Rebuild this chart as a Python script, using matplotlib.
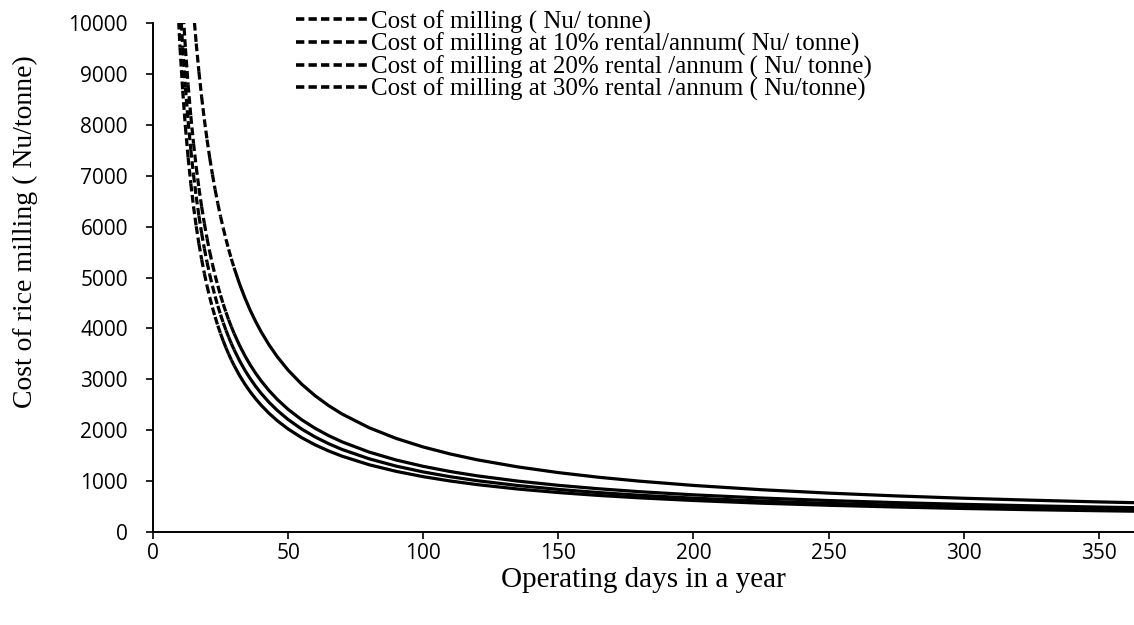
import numpy as np
import matplotlib.pyplot as plt
from matplotlib.collections import LineCollection
from matplotlib.lines import Line2D

plt.rcParams['lines.scale_dashes'] = False

# operating days, dense where the curves are steep
days_steep = [9, 10, 11, 12, 13, 14, 15, 16, 17, 18, 19, 20, 21, 22, 23, 24, 25, 26, 27, 28, 29, 30]
days_flat = [30, 32, 34, 36, 38, 40, 43, 46, 50, 55, 60, 65, 70, 80, 90, 100, 110, 120, 135,
             150, 165, 180, 200, 225, 250, 275, 300, 325, 350, 365]

labels = ['Cost of milling ( Nu/ tonne)',
          'Cost of milling at 10% rental/annum( Nu/ tonne)',
          'Cost of milling at 20% rental /annum ( Nu/ tonne)',
          'Cost of milling at 30% rental /annum ( Nu/tonne)']

# cost of milling (Nu/tonne)
cost_steep = [
    [10561, 9520, 8668, 7958, 7358, 6843, 6397, 6006, 5662, 5356, 5082, 4835, 4612, 4409,
     4224, 4054, 3898, 3754, 3620, 3496, 3381, 3273],
    [11594, 10450, 9514, 8733, 8073, 7507, 7017, 6588, 6209, 5872, 5571, 5300, 5055, 4832,
     4628, 4442, 4270, 4112, 3965, 3829, 3702, 3583],
    [12614, 11370, 10352, 9503, 8785, 8170, 7637, 7170, 6758, 6392, 6065, 5770, 5503, 5261,
     5040, 4837, 4650, 4478, 4318, 4170, 4032, 3903],
    [np.nan, np.nan, np.nan, np.nan, np.nan, 10946, 10227, 9598, 9042, 8549, 8107, 7710,
     7350, 7024, 6725, 6452, 6200, 5968, 5753, 5553, 5367, 5193],
]
cost_flat = [
    [3273, 3078, 2906, 2753, 2616, 2493, 2329, 2187, 2024, 1854, 1712, 1592, 1489, 1321, 1191,
     1087, 1002, 931, 844, 775, 718, 671, 619, 566, 525, 491, 462, 438, 418, 407],
    [3583, 3369, 3179, 3011, 2861, 2725, 2545, 2389, 2210, 2023, 1867, 1735, 1621, 1438, 1294,
     1180, 1086, 1008, 913, 837, 774, 722, 665, 608, 562, 525, 493, 467, 444, 432],
    [3903, 3670, 3464, 3281, 3117, 2970, 2775, 2605, 2410, 2206, 2037, 1893, 1770, 1570, 1414,
     1290, 1188, 1103, 1000, 917, 849, 792, 730, 668, 618, 577, 543, 515, 490, 477],
    [5193, 4879, 4601, 4354, 4134, 3935, 3672, 3443, 3180, 2905, 2677, 2483, 2317, 2048, 1838,
     1670, 1533, 1418, 1279, 1167, 1075, 999, 915, 831, 764, 709, 663, 625, 591, 574],
]

fig = plt.figure(figsize=(11.34, 6.25), dpi=100)
ax = fig.add_axes([0.1349, 0.1488, 0.8651, 0.8144])

lw = 2.3
for i in range(4):
    # the dash pattern restarts on every day-to-day segment (like Excel does)
    segs = []
    for j in range(len(days_steep) - 1):
        y0, y1 = cost_steep[i][j], cost_steep[i][j + 1]
        if np.isnan(y0) or np.isnan(y1):
            continue
        segs.append([(days_steep[j], y0), (days_steep[j + 1], y1)])
    lc = LineCollection(segs, colors='black', linewidths=lw,
                        linestyles=[(0, (5.6, 2.6))], capstyle='butt')
    ax.add_collection(lc)
    ax.plot(days_flat, cost_flat[i], color='black', lw=lw, solid_capstyle='butt',
            solid_joinstyle='round')

ax.set_xlim(0, 363)
ax.set_ylim(0, 10000)
ax.set_xticks(np.arange(0, 351, 50))
ax.set_yticks(np.arange(0, 10001, 1000))
for s in ['top', 'right']:
    ax.spines[s].set_visible(False)
for s in ['left', 'bottom']:
    ax.spines[s].set_linewidth(1.4)
ax.tick_params(axis='both', direction='out', length=5, width=1.2, labelsize=15)
ax.tick_params(axis='y', pad=13)
ax.tick_params(axis='x', pad=3)
for t in ax.get_xticklabels() + ax.get_yticklabels():
    t.set_family('Open Sans')

ax.set_xlabel('Operating days in a year', family='Liberation Serif', fontsize=21, labelpad=2)
ax.set_ylabel('Cost of rice milling ( Nu/tonne)', family='Liberation Serif', fontsize=20)
ax.yaxis.set_label_coords(-0.117, 0.59)

handles = [Line2D([0], [0], color='black', lw=2.6, linestyle=(0, (6.0, 3.0))) for _ in labels]
ax.legend(handles, labels, loc='upper left', bbox_to_anchor=(0.136, 1.045), frameon=False,
          prop={'family': 'Liberation Serif', 'size': 18}, handlelength=2.9,
          handletextpad=0.1, labelspacing=-0.03, borderaxespad=0)

fig.savefig('out.png', dpi=100)
